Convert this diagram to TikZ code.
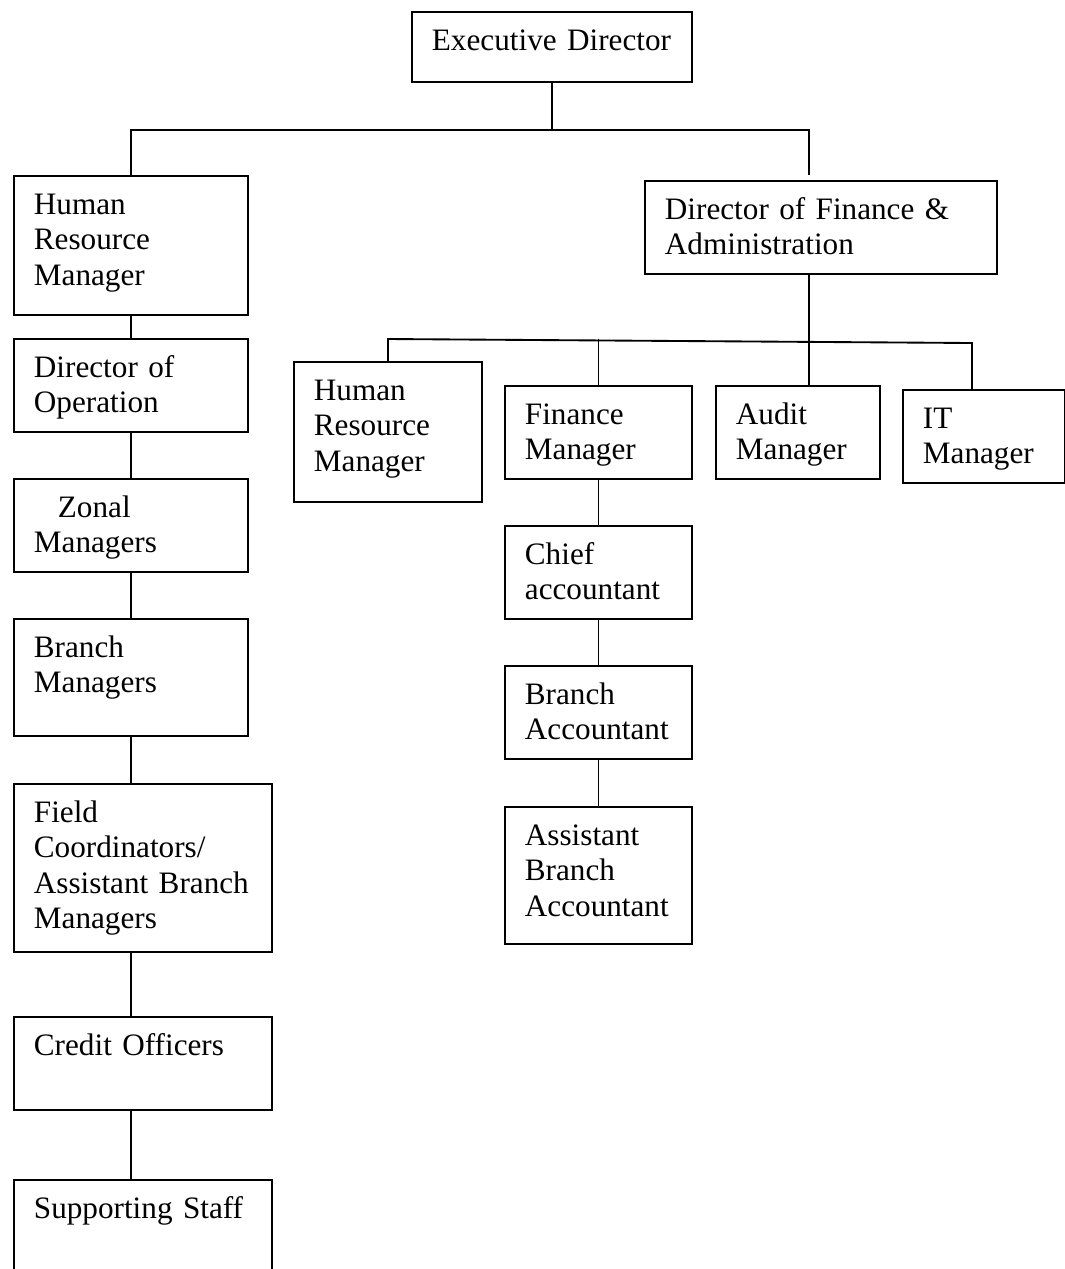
\documentclass[tikz,border=0pt]{standalone}
\usepackage{fontspec}
\setmainfont{Liberation Serif}
\usetikzlibrary{calc}

\begin{document}
\begin{tikzpicture}[x=0.375pt,y=-0.375pt,line width=0.7pt,
		cell/.style 2 args={draw,anchor=north west,align=left,inner xsep=7.5pt,inner ysep=0pt,
			font=\fontsize{11.7}{13.3}\selectfont,text height=14.4pt,text width=#1,text depth=#2}]
		\useasboundingbox (0,0) rectangle (1065,1269);
		\node[cell={90pt}{11.85pt}] (ed) at (411,11) {Executive Director};
		% left branch
		\node[cell={72.75pt}{37.7pt}] (hrl) at (13,175) {Human\\Resource\\Manager};
		\node[cell={72.75pt}{20.5pt}] (dop) at (13,338) {Director of\\Operation};
		\node[cell={72.75pt}{20.5pt}] (zm) at (13,478) {\hspace*{9pt}Zonal\\Managers};
		\node[cell={72.75pt}{29.5pt}] (bm) at (13,618) {Branch\\Managers};
		\node[cell={81.75pt}{48.6pt}] (fc) at (13,783) {Field\\Coordinators/\\Assistant Branch\\Managers};
		\node[cell={81.75pt}{20.5pt}] (co) at (13,1016) {Credit Officers};
		\node[cell={81.75pt}{38.1pt}] (ss) at (13,1179) {Supporting Staff};
		% finance branch
		\node[cell={117pt}{20.5pt}] (dfa) at (644,180) {Director of Finance \&\\Administration};
		\node[cell={55.5pt}{38.1pt}] (hrm) at (293,361) {Human\\Resource\\Manager};
		\node[cell={55.125pt}{20.5pt}] (fm) at (504,385) {Finance\\Manager};
		\node[cell={46.5pt}{20.5pt}] (am) at (715,385) {Audit\\Manager};
		\node[cell={45.75pt}{20.5pt}] (it) at (902,389) {IT\\Manager};
		\node[cell={55.125pt}{20.5pt}] (ca) at (504,525) {Chief\\accountant};
		\node[cell={55.125pt}{20.5pt}] (ba) at (504,665) {Branch\\Accountant};
		\node[cell={55.125pt}{37pt}] (aba) at (504,806) {Assistant\\Branch\\Accountant};

		\draw (ed.south) -- ++(0,47) -| (hrl.north);
		\draw (ed.south) ++(0,47) -| ($(dfa.north)+(-12,-5)$);
		\draw (hrl.south) -- (dop.north);
		\draw (dop.south) -- (zm.north);
		\draw (zm.south) -- (bm.north);
		\draw (bm.south) -- (bm.south |- fc.north);
		\draw (bm.south |- fc.south) -- (bm.south |- co.north);
		\draw (bm.south |- co.south) -- (bm.south |- ss.north);
		\coordinate (busL) at ($(hrm.north)+(0,-22)$);
		\coordinate (busR) at ($(it.north)+(-12,-46)$);
		\draw (hrm.north) -- (busL) -- (busR) -- ($(it.north)+(-12,0)$);
		\draw ($(dfa.south)+(-12,0)$) -- ($(am.north)+(11,0)$);
		\draw (fm.north) -- ++(0,-46);
		\draw (fm.south) -- (ca.north);
		\draw (ca.south) -- (ba.north);
		\draw (ba.south) -- (aba.north);
\end{tikzpicture}
\end{document}
